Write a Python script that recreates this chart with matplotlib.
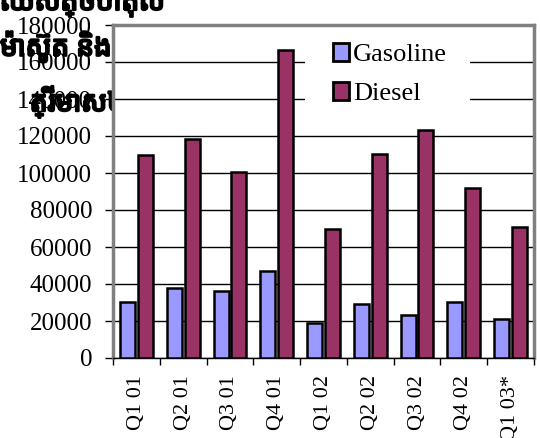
import matplotlib
matplotlib.use("Agg")
import matplotlib.pyplot as plt
import matplotlib.patheffects as pe
import numpy as np
from matplotlib.patches import Patch, Rectangle

categories = ["Q1 01", "Q2 01", "Q3 01", "Q4 01", "Q1 02", "Q2 02", "Q3 02", "Q4 02", "Q1 03*"]
gasoline = [30200, 37800, 36200, 47000, 18900, 29200, 23200, 30300, 21000]
diesel = [109700, 118400, 100500, 166500, 69700, 110300, 123200, 91900, 70800]
y_ticks = [0, 20000, 40000, 60000, 80000, 100000, 120000, 140000, 160000, 180000]
title_lines = ["ឈសត្ថបាតុល", "ម៉ាស៊ូត និង", "ត្រីមាស២០០"]

serif = ["Liberation Serif", "DejaVu Serif"]
khmer = ["Noto Sans Khmer", "Noto Serif Khmer", "Khmer OS", "DejaVu Sans"]

fig = plt.figure(figsize=(5.41, 4.38), dpi=100)
ax = fig.add_axes([113/541, 1-358/438, (534-113)/541, (358-25)/438])
ax.set_zorder(1)

x = np.arange(len(categories))
w = 0.32
ax.bar(x - 0.19, gasoline, w, color="#9999FF", edgecolor="black", linewidth=1.8, zorder=3)
ax.bar(x + 0.19, diesel, w, color="#993366", edgecolor="black", linewidth=1.8, zorder=3)

ax.set_xlim(-0.5, len(categories) - 0.5)
ax.set_ylim(0, 180000)
ax.set_yticks(y_ticks)
ax.set_yticklabels([str(v) for v in y_ticks], fontfamily=serif, fontsize=18)
ax.yaxis.grid(True, color="black", linewidth=1, zorder=0)
ax.set_axisbelow(True)

ax.set_xticks(x)
ax.set_xticklabels(categories, rotation=90, fontfamily=serif, fontsize=16)
ax.set_xticks(np.arange(len(categories) + 1) - 0.5, minor=True)
ax.tick_params(axis="x", which="major", length=0, pad=12)
ax.tick_params(axis="x", which="minor", length=5, width=1, direction="out")
ax.tick_params(axis="y", length=6, width=1, direction="out", pad=9)

for s in ["left", "top", "right"]:
    ax.spines[s].set_color("#808080")
    ax.spines[s].set_linewidth(2.5)
ax.spines["bottom"].set_color("black")
ax.spines["bottom"].set_linewidth(1)

# white legend background interrupting grid lines
ax.add_patch(Rectangle(((305-113)/421, (358-118)/333), (470-305)/421, (118-28)/333,
                       transform=ax.transAxes, facecolor="white", edgecolor="none", zorder=1))

handles = [Patch(facecolor="#9999FF", edgecolor="black", linewidth=2),
           Patch(facecolor="#993366", edgecolor="black", linewidth=2)]
leg = ax.legend(handles, ["Gasoline", "Diesel"], loc="upper left",
                bbox_to_anchor=((333-113)/421, (358-43)/333),
                prop={"family": serif, "size": 19}, frameon=False,
                handlelength=0.62, handleheight=0.66, handletextpad=0.15,
                labelspacing=0.6, borderpad=0, borderaxespad=0)
leg.set_zorder(5)

bold = [pe.withStroke(linewidth=1.6, foreground="black")]
for (xp, yp, txt) in [(0, 3, title_lines[0]), (0, 47, title_lines[1]), (30, 102, title_lines[2])]:
    fig.text(xp/541, 1-yp/438, txt, ha="left", va="center", fontsize=20,
             fontfamily=khmer, fontweight="bold", zorder=0, path_effects=bold)

fig.savefig("out.png", dpi=100)
